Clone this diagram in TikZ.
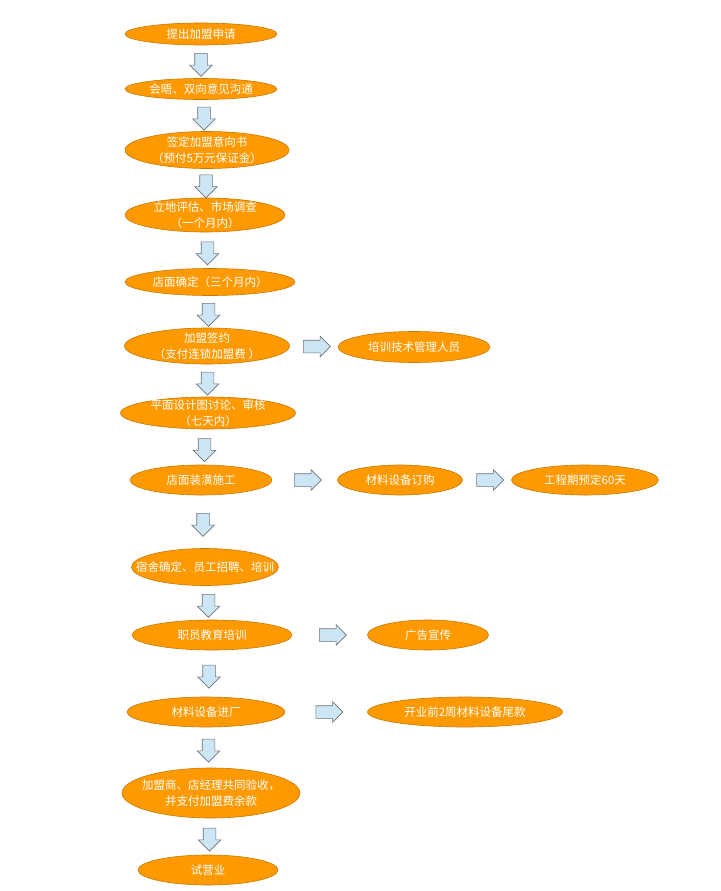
\documentclass[tikz,border=0pt]{standalone}
\usepackage{fontspec}
\newfontfamily\cjk{Noto Sans CJK SC}
\usetikzlibrary{shapes.geometric,shapes.arrows}
\definecolor{stagefill}{HTML}{FF9900}
\definecolor{stageline}{HTML}{C97800}
\definecolor{arrfill}{HTML}{CDE6F6}
\definecolor{arrline}{HTML}{6E7378}
\tikzset{
  stage/.style 2 args={ellipse, draw=stageline, fill=stagefill, line width=0.6pt, minimum width=#1, minimum height=#2, inner sep=0pt},
  stagetext/.style={text=white, font=\cjk\fontsize{11.5}{16}\selectfont, align=center, inner sep=0pt},
  blockarr/.style={single arrow, draw=arrline, fill=arrfill, line width=0.6pt, inner sep=6pt, single arrow head extend=5pt},
  arrdown/.style={blockarr, rotate=-90, minimum height=23pt},
  arrright/.style={blockarr, minimum height=27pt, single arrow head extend=4pt},
}
\begin{document}
\begin{tikzpicture}[x=1pt, y=1pt]
  \useasboundingbox (0,0) rectangle (720,-891);

  % main column
  \node[stage={152}{22}, label={[stagetext]center:提出加盟申请}] (s1) at (201,-34) {};
  \node[stage={152}{21}, label={[stagetext]center:会晤、双向意见沟通}] (s2) at (201,-89) {};
  \node[stage={164}{37}, label={[stagetext]center:{签定加盟意向书\\（预付5万元保证金）}}] (s3) at (207,-150) {};
  \node[stage={160}{34}, label={[stagetext]center:{立地评估、市场调查\\（一个月内）}}] (s4) at (205,-215) {};
  \node[stage={170}{27}, label={[stagetext]center:店面确定（三个月内）}] (s5) at (210,-282) {};
  \node[stage={165}{36}, label={[stagetext]center:{加盟签约\\（支付连锁加盟费 ）}}] (s6) at (207,-346) {};
  \node[stage={175}{32}, label={[stagetext]center:{平面设计图讨论、审核\\（七天内）}}] (s7) at (208,-413) {};
  \node[stage={142}{30}, label={[stagetext]center:店面装潢施工}] (s8) at (201,-480) {};
  \node[stage={147}{37}, label={[stagetext]center:宿舍确定、员工招聘、培训}] (s9) at (205,-567) {};
  \node[stage={160}{30}, label={[stagetext]center:职员教育培训}] (s10) at (212,-635) {};
  \node[stage={158}{30}, label={[stagetext]center:材料设备进厂}] (s11) at (206,-712) {};
  \node[stage={178}{50}, label={[stagetext]center:{加盟商、店经理共同验收，\\并支付加盟费余款}}] (s12) at (211,-793) {};
  \node[stage={140}{30}, label={[stagetext]center:试营业}] (s13) at (208,-870) {};

  % side branches
  \node[stage={152}{31}, label={[stagetext]center:培训技术管理人员}] (r1) at (414,-347) {};
  \node[stage={125}{30}, label={[stagetext]center:材料设备订购}] (r2) at (400,-480) {};
  \node[stage={147}{30}, label={[stagetext]center:工程期预定60天}] (r3) at (585,-480) {};
  \node[stage={121}{30}, label={[stagetext]center:广告宣传}] (r4) at (428,-635) {};
  \node[stage={195}{30}, label={[stagetext]center:开业前2周材料设备尾款}] (r5) at (465,-712) {};

  % block arrows
  \path (s1.south) -- node[arrdown] (a1) {} (s2.north);
  \path (s2.south) -- node[arrdown] (a2) {} (s3.north);
  \path (s3.south) -- node[arrdown] (a3) {} (s4.north);
  \path (s4.south) -- node[arrdown] (a4) {} (s5.north);
  \path (s5.south) -- node[arrdown] (a5) {} (s6.north);
  \path (s6.south) -- node[arrdown] (a6) {} (s7.north);
  \path (s7.south) -- node[arrdown] (a7) {} (s8.north);
  \path (s8.south) -- node[arrdown] (a8) {} (s9.north);
  \path (s9.south) -- node[arrdown] (a9) {} (s10.north);
  \path (s10.south) -- node[arrdown] (a10) {} (s11.north);
  \path (s11.south) -- node[arrdown] (a11) {} (s12.north);
  \path (s12.south) -- node[arrdown] (a12) {} (s13.north);

  \path (s6.east) -- node[arrright] (b1) {} (r1.west);
  \path (s8.east) -- node[arrright] (b2) {} (r2.west);
  \path (r2.east) -- node[arrright] (b3) {} (r3.west);
  \path (s10.east) -- node[arrright] (b4) {} (r4.west);
  \path (s11.east) -- node[arrright] (b5) {} (r5.west);
\end{tikzpicture}
\end{document}
